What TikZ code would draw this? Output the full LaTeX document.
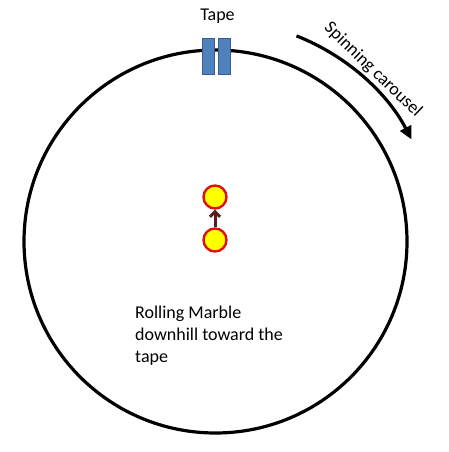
\documentclass[tikz,border=0pt]{standalone}
\usepackage{fontspec}
\setmainfont{Carlito}
\usetikzlibrary{arrows.meta}
\definecolor{tapefill}{HTML}{4F81BD}
\definecolor{tapeedge}{HTML}{385D8A}
\definecolor{marblefill}{HTML}{FFFF00}
\definecolor{marbleedge}{HTML}{E01010}
\definecolor{arrowbrown}{HTML}{5A1E1E}
\tikzset{
  lbl/.style={font=\fontsize{18bp}{22bp}\selectfont, inner sep=0pt},
  tapebox/.style={draw=tapeedge, line width=1.2bp, fill=tapefill, minimum width=12bp, minimum height=36bp, inner sep=0pt},
  marble/.style={circle, draw=marbleedge, line width=2.4bp, fill=marblefill, minimum size=23bp, inner sep=0pt},
  rim/.style={line width=3.2bp, black},
}
\begin{document}
\begin{tikzpicture}[x=1bp,y=-1bp]
\useasboundingbox (0,0) rectangle (449,452);
% carousel
\coordinate (c) at (215.5,241.5);
\draw[rim] (c) circle[radius=191.5];
% tape
\node[tapebox] (t1) at (208.7,56.7) {};
\node[tapebox] (t2) at (224.7,56.7) {};
\node[lbl, anchor=base] (tapelbl) at (217.5,21) {Tape};
% spinning arrow
\draw[line width=3.2bp, -{Triangle[length=13bp,width=12bp]}] ([shift={(-68.5:221)}]c) arc[start angle=-68.5, end angle=-27.5, radius=221];
\node[lbl, rotate=-44] (spin) at (373,70) {Spinning carousel};
% marbles
\node[marble] (m1) at (215,197) {};
\node[marble] (m2) at (215,240) {};
\draw[arrowbrown, line width=3bp, -{Straight Barb[length=5bp,width=10bp]}] (m2) -- (m1);
\node[lbl, anchor=north west, align=left] (roll) at (135,305.5) {Rolling Marble\\downhill toward the\\tape};
\end{tikzpicture}
\end{document}
